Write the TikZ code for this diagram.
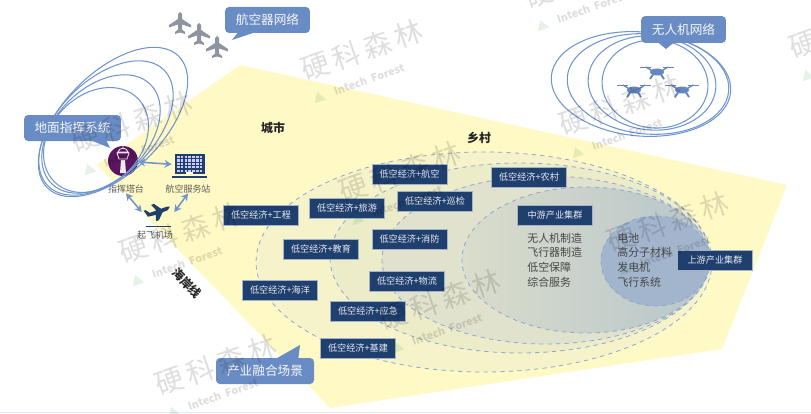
\documentclass[tikz,border=0pt]{standalone}
\usepackage{fontspec}
\setmainfont{Noto Sans CJK SC}
\usetikzlibrary{arrows.meta}
\definecolor{navy}{HTML}{1F3F6E}
\definecolor{callblue}{HTML}{6A8CC4}
\definecolor{orbitblue}{HTML}{6F95CE}
\definecolor{dashblue}{HTML}{88A6D2}
\definecolor{coast}{HTML}{FFF9C6}
\definecolor{towerpurple}{HTML}{5A1560}
\definecolor{planegray}{HTML}{8E959F}
\definecolor{ringa}{HTML}{F6F3CB}
\definecolor{ringb}{HTML}{ECECC9}
\definecolor{ringc}{HTML}{E0E2CD}
\definecolor{ringdl}{HTML}{DADDCB}
\definecolor{ringdr}{HTML}{B7C5CB}
\definecolor{ringe}{HTML}{A3B5CD}
\newcommand{\Plane}[2]{\fill[planegray,shift={(#1,#2)}] (0,-11) -- (2,-9) -- (2,-4) -- (11,2) -- (11,4.5) -- (2,1.5) -- (2,6.5) -- (5,9) -- (5,11) -- (0,9.5) -- (-5,11) -- (-5,9) -- (-2,6.5) -- (-2,1.5) -- (-11,4.5) -- (-11,2) -- (-2,-4) -- (-2,-9) -- cycle;}
\newcommand{\Drone}[2]{\begin{scope}[shift={(#1,#2)},color=orbitblue!85!navy]
    \draw[line width=0.7pt] (-17,-5) -- (-6,-5) (6,-5) -- (17,-5);
    \draw[line width=1pt] (-11,-5) -- (-3,0) (11,-5) -- (3,0);
    \draw[line width=1.3pt] (-3,1) -- (-7,7) (3,1) -- (7,7);
    \fill (0,0) ellipse [x radius=7,y radius=3.5];
  \end{scope}}
\newcommand{\Wmark}[2]{\begin{scope}[shift={(#1,#2)},rotate=19]
    \node[wmarktext] (wm#1) at (0,0) {硬\,科\,森\,林};
    \node[wmarksmall] (ws#1) at (-3,30) {Intech\ \ Forest};
    \fill[green!50!black,opacity=0.1] (-62,35) -- (-56,25) -- (-50,35) -- cycle;
  \end{scope}}
\tikzset{
  navybox/.style={fill=navy,draw=navy!40!white,line width=0.2pt,text=white!90!navy,minimum width=18.8mm,minimum height=5mm,inner sep=0pt,font=\fontsize{6.5}{7}\selectfont},
  callbox/.style={fill=callblue,rounded corners=1mm,text=white!92!callblue,inner sep=0pt,font=\fontsize{9}{10}\selectfont},
  iconlabel/.style={text=black!65,inner sep=0pt,font=\fontsize{6.4}{7}\selectfont},
  listtext/.style={text=black!72,inner sep=0pt,align=left,font=\fontsize{7.8}{10.4}\selectfont},
  areatext/.style={text=black!85,inner sep=0pt,font=\fontsize{8.5}{9}\selectfont\bfseries},
  ring/.style={draw=dashblue,dashed,line width=0.55pt},
  orbit/.style={draw=orbitblue,line width=0.75pt},
  linkarrow/.style={{Stealth[length=5pt,width=5.5pt]}-{Stealth[length=5pt,width=5.5pt]},draw=orbitblue,line width=1.1pt},
  wmarktext/.style={rotate=19,text=black,text opacity=0.13,inner sep=0pt,font=\fontsize{20}{22}\selectfont},
  wmarksmall/.style={rotate=19,text=black,text opacity=0.13,inner sep=0pt,font=\fontsize{7.6}{8}\selectfont\bfseries}
}
\begin{document}
\begin{tikzpicture}[x=0.25mm,y=-0.25mm]
    \useasboundingbox (0,0) rectangle (811,413);
    \fill[blue!10!white] (0,411.8) rectangle (811,413);
    % coast area
    \fill[coast] (97,165) -- (240,65) -- (787,185) -- (722,349) -- (330,408) -- cycle;
    % rings
    \draw[ring,fill=ringa] (484,262) ellipse [x radius=228,y radius=110];
    \draw[ring,fill=ringb] (520,258) ellipse [x radius=190,y radius=95];
    \draw[ring,fill=ringc] (546,260) ellipse [x radius=164,y radius=84];
    \draw[ring,left color=ringdl,right color=ringdr] (586,260) ellipse [x radius=124,y radius=73];
    \draw[ring,fill=ringe] (655.5,261) ellipse [x radius=54.5,y radius=45];
    % planes and drones
    \Plane{180}{23}
    \Plane{199}{34}
    \Plane{217}{47}
    \Drone{657}{72}
    \Drone{634}{90}
    \Drone{682}{90}
    % ground side icons
    \node[circle,fill=towerpurple,minimum size=7.5mm,inner sep=0pt] (tower) at (123,161) {};
    \fill[white!90!towerpurple] (121,160) -- ++(4,0) -- ++(1,13) -- ++(-6,0) -- cycle;
    \draw[white!90!towerpurple,line width=0.6pt] (117,153) -- (129,153) -- (127,159) -- (119,159) -- cycle (118,152) .. controls (119,147) and (127,147) .. (128,152) -- cycle (123,148) -- (123,145);
    \node[minimum width=8.8mm,minimum height=6.3mm,inner sep=0pt] (station) at (189.5,165.5) {};
    \fill[navy] (175,154) rectangle (205,174);
    \fill[navy] (172,176) rectangle (207,178);
    \foreach \i in {0,...,6}
      \foreach \j in {0,...,4}
        \fill[blue!20!white] (177+\i*3.8,156+\j*3.4) rectangle +(2.6,2.2);
    \fill[white] (186,172) rectangle (193,174);
    \node[minimum width=8mm,minimum height=3.6mm,inner sep=0pt] (takeoff) at (158,212) {};
    \fill[navy,shift={(158,212)},rotate=20] (13,-1) .. controls (11,-2) .. (4,-2) -- (-1,-9) -- (-4,-9) -- (-1,-2) -- (-8,-2) -- (-11,-6) -- (-13,-6) -- (-11,1) -- (-3,2) -- (-5,8) -- (-2,8) -- (4,2) -- (10,1.5) .. controls (12,1) .. (13,-1) -- cycle;
    \draw[navy,line width=0.7pt] (146,226) -- (171,226);
    \node[iconlabel] (towerlbl) at (126,189) {指挥塔台};
    \node[iconlabel] (stationlbl) at (188,189) {航空服务站};
    \node[iconlabel] (takeofflbl) at (155,235) {起飞机场};
    \draw[linkarrow] (tower) -- (station);
    \draw[linkarrow] (towerlbl.south) -- (takeoff.west);
    \draw[linkarrow] (stationlbl.south) -- (takeoff.east);
    % orbits
    \draw[orbit] (113,122) ellipse [x radius=93,y radius=50,rotate=45];
    \draw[orbit] (106,128) ellipse [x radius=82,y radius=48,rotate=45];
    \draw[orbit] (101,134) ellipse [x radius=70,y radius=46,rotate=45];
    \draw[orbit] (96,140) ellipse [x radius=59,y radius=45,rotate=45];
    \draw[orbit] (641,84) ellipse [x radius=90,y radius=52,rotate=-5];
    \draw[orbit] (648,84) ellipse [x radius=81,y radius=50,rotate=-5];
    \draw[orbit] (652,83) ellipse [x radius=64,y radius=47,rotate=-5];
    \draw[orbit] (655,84) ellipse [x radius=53,y radius=44,rotate=-5];
    % callouts
    \fill[callblue] (240,30) -- (232,40) -- (262,30) -- cycle;
    \node[callbox,minimum width=21.2mm,minimum height=6.5mm] (flightnet) at (267.5,20) {航空器网络};
    \fill[callblue] (85,138) -- (110,148) -- (105,138) -- cycle;
    \node[callbox,minimum width=24.2mm,minimum height=6.5mm] (groundsys) at (72.5,128) {地面指挥系统};
    \fill[callblue] (655,40) -- (666,49) -- (677,40) -- cycle;
    \node[callbox,minimum width=21.2mm,minimum height=6.7mm] (dronenet) at (683.5,29.5) {无人机网络};
    \fill[callblue] (272,361) -- (300,345) -- (298,361) -- cycle;
    \node[callbox,minimum width=24.5mm,minimum height=6.5mm] (fusion) at (265,371) {产业融合场景};
    % scene boxes
    \node[navybox] (gongcheng) at (261,215) {低空经济+工程};
    \node[navybox] (lvyou) at (347,208) {低空经济+旅游};
    \node[navybox] (hangkong) at (409.5,174) {低空经济+航空};
    \node[navybox] (xunjian) at (435,201) {低空经济+巡检};
    \node[navybox] (xiaofang) at (409.5,239) {低空经济+消防};
    \node[navybox] (jiaoyu) at (321,249.5) {低空经济+教育};
    \node[navybox] (wuliu) at (407,281) {低空经济+物流};
    \node[navybox] (haiyang) at (280,290) {低空经济+海洋};
    \node[navybox] (yingji) at (368,311) {低空经济+应急};
    \node[navybox] (jijian) at (358,348) {低空经济+基建};
    \node[navybox] (nongcun) at (529,177) {低空经济+农村};
    \node[navybox] (midstream) at (555,215) {中游产业集群};
    \node[navybox] (upstream) at (715,260) {上游产业集群};
    \node[listtext,anchor=west] (midlist) at (527,260) {无人机制造\\飞行器制造\\低空保障\\综合服务};
    \node[listtext,anchor=west] (uplist) at (617,260) {电池\\高分子材料\\发电机\\飞行系统};
    % area names
    \node[areatext] (city) at (273,128) {城市};
    \node[areatext] (village) at (479,138) {乡村};
    \node[areatext,rotate=-45] (coastline) at (187,283) {海岸线};
    % watermarks
    \Wmark{132}{122}
    \Wmark{180}{233}
    \Wmark{216}{365}
    \Wmark{362}{50}
    \Wmark{400}{172}
    \Wmark{440}{300}
    \Wmark{668}{222}
    \Wmark{620}{105}
    \Wmark{585}{-22}
    \Wmark{850}{28}
  \end{tikzpicture}
\end{document}
